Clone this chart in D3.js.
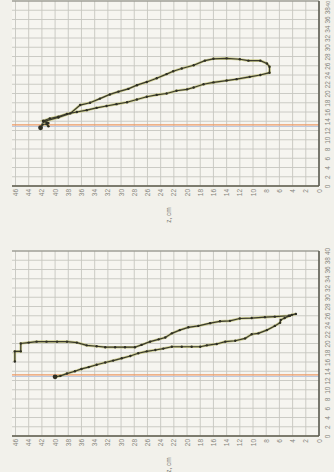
<!DOCTYPE html>
<html>
<head>
<meta charset="utf-8">
<script src="https://cdn.jsdelivr.net/npm/d3@7"></script>
<style>
  body { margin: 0; background: #f2f1eb; }
  svg { display: block; }
</style>
</head>
<body>
<svg id="chart" width="334" height="472"></svg>
<script>
// tick labels
const zTicks = [46, 44, 42, 40, 38, 36, 34, 32, 30, 28, 26, 24, 22, 20, 18, 16, 14, 12, 10, 8, 6, 4, 2, 0];
const vTicks = [0, 2, 4, 6, 8, 10, 12, 14, 16, 18, 20, 22, 24, 26, 28, 30, 32, 34, 36, 38, 40];
const refLevel = 13.2;

// upper panel: one loop, start dot near z=42
const topZ = [42.2, 41.9, 41.3, 41.0, 41.2, 41.8,
  39.5, 37.7, 36.2, 34.7, 33.2, 31.7, 30.4, 28.9, 27.6, 26.1, 24.6, 23.1, 22.1, 20.8, 19.0, 17.3, 16.0, 14.0, 12.0, 10.7, 8.9, 7.9, 7.5, 7.5,
  8.9, 10.5, 12.5, 14.0, 16.0, 17.5, 19.0, 20.0, 21.6, 23.1, 24.6, 26.1, 27.6, 29.1, 30.7, 32.2, 33.7, 35.2, 36.7, 38.2, 39.5, 40.8, 41.8,
  41.0];
const topV = [12.6, 13.3, 13.4, 12.9, 13.7, 13.9,
  14.8, 15.7, 17.5, 18.0, 18.9, 19.8, 20.4, 21.0, 21.8, 22.5, 23.3, 24.2, 24.8, 25.4, 26.1, 27.1, 27.5, 27.6, 27.4, 27.1, 27.1, 26.5, 25.8, 24.5,
  24.0, 23.6, 23.1, 22.8, 22.4, 22.0, 21.3, 20.9, 20.6, 20.0, 19.7, 19.3, 18.7, 18.1, 17.7, 17.3, 16.9, 16.4, 16.0, 15.6, 15.0, 14.6, 14.1,
  13.6];

// lower panel: out along the lower branch, back along the upper one
const bottomZ = [40.0, 39.2, 38.2, 37.0, 36.0, 34.9, 33.7, 32.4, 31.2, 29.9, 28.6, 27.4, 26.1, 24.8, 23.6, 22.3, 20.8, 19.3, 18.0, 17.0,
  15.5, 14.2, 12.7, 11.2, 10.2, 9.2, 7.9, 6.7, 5.9, 5.8, 5.2, 4.4, 4.1, 3.5,
  4.6, 6.7, 8.2, 10.2, 12.0, 13.5, 15.0, 16.5, 18.3, 19.8, 21.1, 22.3, 23.3, 24.3, 25.6, 26.9, 27.9, 29.4, 30.9, 32.4,
  33.7, 35.2, 36.7, 38.2, 39.7, 41.3, 42.8, 44.0, 45.2, 45.2, 46.1, 46.1];
const bottomV = [12.8, 13.0, 13.5, 14.0, 14.5, 14.9, 15.4, 15.9, 16.3, 16.8, 17.3, 17.9, 18.3, 18.6, 18.9, 19.3, 19.3, 19.3, 19.3, 19.6,
  19.9, 20.4, 20.6, 21.1, 22.0, 22.2, 22.9, 23.8, 24.5, 25.1, 25.5, 26.0, 26.2, 26.4,
  26.0, 25.8, 25.7, 25.5, 25.4, 24.9, 24.8, 24.4, 23.8, 23.5, 22.9, 22.2, 21.3, 20.9, 20.4, 19.7, 19.2, 19.2, 19.2, 19.2,
  19.4, 19.6, 20.2, 20.4, 20.4, 20.4, 20.4, 20.2, 20.0, 18.3, 18.3, 16.1];

const svg = d3.select('#chart');
const left = 12, right = 319;
const font = '"Liberation Sans", Arial, sans-serif';

const x = d3.scaleLinear().domain([46, 0]).range([15.5, right]);

const panels = [
  { z: topZ, v: topV, top: 1, bottom: 186 },
  { z: bottomZ, v: bottomV, top: 251, bottom: 436 }
];

panels.forEach(p => {
  const y = d3.scaleLinear().domain([0, 40]).range([p.bottom, p.top]);
  const g = svg.append('g');

  g.append('rect')
    .attr('x', left).attr('y', p.top)
    .attr('width', right - left).attr('height', p.bottom - p.top)
    .attr('fill', '#f6f5f0');

  // grid
  g.append('g').selectAll('line').data(zTicks).join('line')
    .attr('x1', d => x(d)).attr('x2', d => x(d))
    .attr('y1', p.top).attr('y2', p.bottom)
    .attr('stroke', '#c6c6c0').attr('stroke-width', 0.9);
  g.append('g').selectAll('line').data(vTicks).join('line')
    .attr('x1', left).attr('x2', right)
    .attr('y1', d => y(d)).attr('y2', d => y(d))
    .attr('stroke', '#c6c6c0').attr('stroke-width', 0.9);

  // reference level
  g.append('line')
    .attr('x1', left).attr('x2', right)
    .attr('y1', y(refLevel) + 1.5).attr('y2', y(refLevel) + 1.5)
    .attr('stroke', '#b9c6dc').attr('stroke-width', 1);
  g.append('line')
    .attr('x1', left).attr('x2', right)
    .attr('y1', y(refLevel)).attr('y2', y(refLevel))
    .attr('stroke', '#ec9a66').attr('stroke-width', 1.2);

  // frame
  g.append('line').attr('x1', left).attr('x2', right).attr('y1', p.top).attr('y2', p.top)
    .attr('stroke', '#8a8a80').attr('stroke-width', 1.2);
  g.append('line').attr('x1', right).attr('x2', right).attr('y1', p.top).attr('y2', p.bottom)
    .attr('stroke', '#55554a').attr('stroke-width', 1.5);

  // z axis
  const ax = g.append('g')
    .attr('transform', `translate(0,${p.bottom})`)
    .call(d3.axisBottom(x).tickValues(zTicks).tickSize(0).tickFormat(d3.format('d')));
  ax.select('.domain').attr('d', `M${left},0H${right}`).attr('stroke', '#5b5a4a').attr('stroke-width', 1.6);
  ax.selectAll('text')
    .attr('transform', 'rotate(-90)')
    .attr('x', -3).attr('y', 0).attr('dy', '0.32em')
    .attr('text-anchor', 'end')
    .attr('fill', '#85857c').style('font-size', '6.5px').style('font-family', font);

  // value axis (a label at the page edge is shrunk and pulled in)
  const ay = g.append('g')
    .attr('transform', `translate(${right},0)`)
    .call(d3.axisRight(y).tickValues(vTicks).tickSize(0).tickFormat(d3.format('d')));
  ay.select('.domain').remove();
  ay.selectAll('text')
    .attr('transform', 'rotate(-90)')
    .attr('x', d => (y(d) < 5 ? -2.2 : 0)).attr('y', 10.5).attr('dy', 0)
    .attr('text-anchor', 'middle')
    .attr('fill', '#85857c').style('font-family', font)
    .style('font-size', d => (y(d) < 5 ? '5.5px' : '6.5px'));

  g.append('text')
    .attr('transform', `translate(${x(23) + 2},${p.bottom + 29}) rotate(-90)`)
    .attr('text-anchor', 'middle').attr('dy', '0.32em')
    .attr('fill', '#77776e').style('font-size', '6.5px').style('font-family', font)
    .text('z, cm');

  // measured curve
  const pts = p.z.map((d, i) => [d, p.v[i]]);
  const line = d3.line().x(d => x(d[0])).y(d => y(d[1]));
  g.append('path').datum(pts).attr('d', line)
    .attr('fill', 'none').attr('stroke', '#bdbd6a').attr('stroke-width', 2.6).attr('stroke-opacity', 0.7);
  g.append('path').datum(pts).attr('d', line)
    .attr('fill', 'none').attr('stroke', '#3a3a2c').attr('stroke-width', 1.2);
  g.append('g').selectAll('circle').data(pts).join('circle')
    .attr('cx', d => x(d[0])).attr('cy', d => y(d[1]))
    .attr('r', (d, i) => i === 0 ? 2.4 : 1.2)
    .attr('fill', '#2e2e24');
});
</script>
</body>
</html>
